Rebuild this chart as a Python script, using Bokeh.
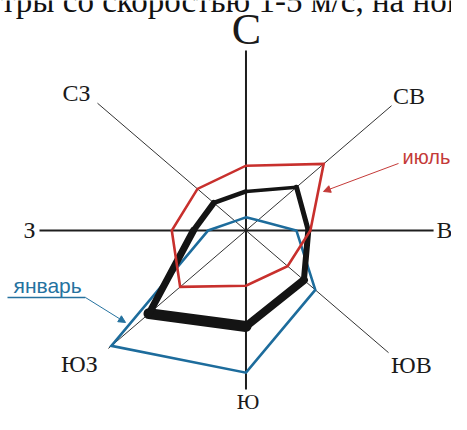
import numpy as np
from bokeh.plotting import figure
from bokeh.models import Range1d, Arrow, NormalHead
from bokeh.core.properties import value
from bokeh.embed import file_html
from bokeh.resources import INLINE

# ---- data -------------------------------------------------------------
directions = ["С", "СВ", "В", "ЮВ", "Ю", "ЮЗ", "З", "СЗ"]
arm_length = [30, 29.4, 26.8, 28.8, 26.5, 27.8, 29.5, 30]
july = [10.8, 15.7, 9.2, 8.4, 9.2, 13.3, 10.6, 9.8]
year = [6.5, 10.2, 8.9, 11.7, 16.0, 19.6, 7.5, 6.5]
january = [2.2, 2.4, 7.2, 14.0, 23.7, 27.2, 5.4, 2.2]
series_labels = ["июль", "январь"]
header_text = "тры со скоростью 1-5 м/с, на новых"

# ---- layout / style ---------------------------------------------------
RED = "#c8302d"
BLUE = "#1d6c9c"
BLACK = "#141414"
year_widths = [3.5, 5, 6, 8, 11, 7, 6, 4.5]
label_x = [0.07, 23.29, 28.35, 23.64, 0.29, -23.79, -30.93, -24.21]
label_y = [33.5, 22.42, 0.0, -22.42, -28.5, -22.33, 0.08, 22.92]
label_size = ["44px", "24px", "24px", "24px", "22px", "24px", "24px", "24px"]

theta = np.deg2rad(np.arange(len(directions)) * 45.0)


def polar(r):
    r = np.asarray(r, dtype=float)
    return r * np.sin(theta), r * np.cos(theta)


p = figure(width=451, height=414,
           x_range=Range1d(-35.07, 29.36), y_range=Range1d(-30.67, 38.33),
           x_axis_type=None, y_axis_type=None,
           output_backend="svg", toolbar_location=None, min_border=0)
p.grid.visible = False
p.outline_line_color = None
p.background_fill_color = "white"

# compass arms
ax, ay = polar(arm_length)
card = [0, 2, 4, 6]
diag = [1, 3, 5, 7]
p.segment(x0=[0] * 4, y0=[0] * 4, x1=ax[diag], y1=ay[diag],
          line_color="#333333", line_width=1)
p.segment(x0=[0] * 4, y0=[0] * 4, x1=ax[card], y1=ay[card],
          line_color="#1e1e1e", line_width=2)

# January
jx, jy = polar(january)
p.patch(np.append(jx, jx[0]), np.append(jy, jy[0]), fill_color=None,
        line_color=BLUE, line_width=2.6, line_join="miter")

# annual (thick, tapered)
yx, yy = polar(year)
p.segment(x0=yx, y0=yy, x1=np.roll(yx, -1), y1=np.roll(yy, -1),
          line_color=BLACK, line_width=year_widths, line_cap="round")

# July
rx, ry = polar(july)
p.patch(np.append(rx, rx[0]), np.append(ry, ry[0]), fill_color=None,
        line_color=RED, line_width=2.6, line_join="miter")

# direction labels
for i, name in enumerate(directions):
    p.text(x=[label_x[i]], y=[label_y[i]], text=[name],
           text_font=value("Liberation Serif"), text_font_size=label_size[i],
           text_align="center", text_baseline="middle",
           text_color="#1a1a1a")

# series annotations
p.text(x=[22.36], y=[12.33], text=[series_labels[0]],
       text_font=value("Liberation Sans"), text_font_size="20px",
       text_align="left", text_baseline="middle", text_color="#c43a38")
p.add_layout(Arrow(x_start=21.79, y_start=11.17, x_end=11.07, y_end=6.5,
                   line_color="#c43a38", line_width=1,
                   end=NormalHead(size=7, fill_color="#c43a38",
                                  line_color="#c43a38")))

p.text(x=[-33.21], y=[-9.12], text=[series_labels[1]],
       text_font=value("Liberation Sans"), text_font_size="21px",
       text_align="left", text_baseline="middle", text_color="#25729f")
p.segment(x0=[-34.07], y0=[-11.17], x1=[-22.93], y1=[-11.17],
          line_color="#25729f", line_width=1.3)
p.add_layout(Arrow(x_start=-22.93, y_start=-11.17, x_end=-17.21, y_end=-15.33,
                   line_color="#25729f", line_width=1,
                   end=NormalHead(size=7, fill_color="#25729f",
                                  line_color="#25729f")))

# cropped header line of the source page
p.text(x=[-35.0], y=[38.3], text=[header_text],
       text_font=value("Liberation Serif"), text_font_size="33px",
       text_align="left", text_baseline="middle", text_color="#111111")

open("out.html", "w").write(file_html(p, INLINE))
